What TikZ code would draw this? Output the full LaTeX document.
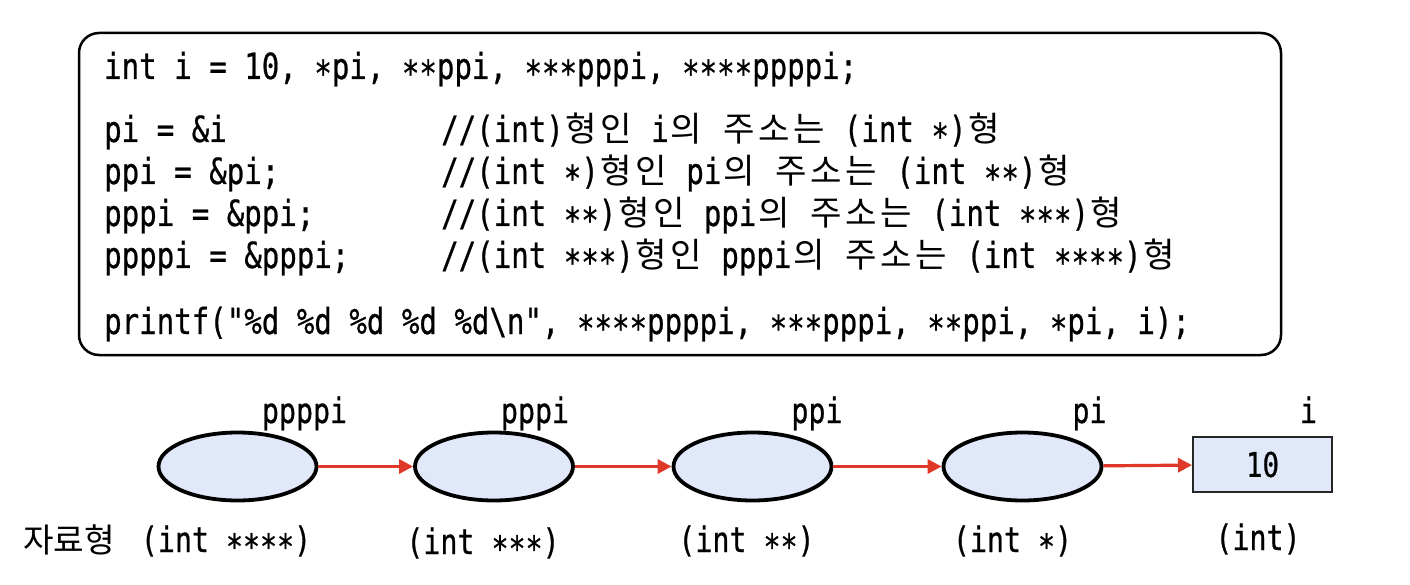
\documentclass[tikz,border=0pt]{standalone}
\usepackage{fontspec}
\setmonofont[FakeStretch=0.808,FakeBold=0.6]{DejaVu Sans Mono}
\newfontfamily\kr[Scale=0.95]{Noto Sans CJK KR}
\usetikzlibrary{arrows.meta,shapes.geometric}
\newcommand\K[1]{{\kr #1}}
\newcommand\hc[1]{\makebox[35pt]{\kr #1}}
\newcommand\sa{\raisebox{-7pt}{*}}
\definecolor{ellfill}{RGB}{224,232,250}
\definecolor{arrred}{RGB}{224,56,40}
\tikzset{
  code/.style={anchor=base west, inner sep=0pt, font=\ttfamily\fontsize{36}{42}\selectfont},
  lbl/.style={anchor=base, inner sep=0pt, font=\ttfamily\fontsize{35}{42}\selectfont},
  ell/.style={ellipse, draw, line width=3.8pt, fill=ellfill, minimum width=158pt, minimum height=68pt, inner sep=0pt},
  valbox/.style={rectangle, draw=black!85, line width=2pt, fill=ellfill, minimum width=139pt, minimum height=55pt, inner sep=0pt, font=\ttfamily\fontsize{34}{40}\selectfont},
  arr/.style={draw=arrred, line width=3.2pt, -{Triangle[length=14pt,width=14pt]}}
}
\begin{document}
\begin{tikzpicture}[x=1pt,y=-1pt]
\useasboundingbox (0,0) rectangle (1410,585);
% code box
\node[draw, line width=2.5pt, rounded corners=20pt, minimum width=1202pt, minimum height=322pt, inner sep=0pt] (box) at (680,194) {};
\node[code] (l1) at (104,79) {int i = 10, \sa pi, \sa\sa ppi, \sa\sa\sa pppi, \sa\sa\sa\sa ppppi;};
\node[code] (l2) at (104,142) {pi = \&i};
\node[code] (c2) at (441,142) {//(int)\hc{형}\hc{인} i\hc{의} \hc{주}\hc{소}\hc{는} (int \sa)\hc{형}};
\node[code] (l3) at (104,184) {ppi = \&pi;};
\node[code] (c3) at (441,184) {//(int \sa)\hc{형}\hc{인} pi\hc{의} \hc{주}\hc{소}\hc{는} (int \sa\sa)\hc{형}};
\node[code] (l4) at (104,226) {pppi = \&ppi;};
\node[code] (c4) at (441,226) {//(int \sa\sa)\hc{형}\hc{인} ppi\hc{의} \hc{주}\hc{소}\hc{는} (int \sa\sa\sa)\hc{형}};
\node[code] (l5) at (104,268) {ppppi = \&pppi;};
\node[code] (c5) at (441,268) {//(int \sa\sa\sa)\hc{형}\hc{인} pppi\hc{의} \hc{주}\hc{소}\hc{는} (int \sa\sa\sa\sa)\hc{형}};
\node[code] (l6) at (104,334) {printf("\%d \%d \%d \%d \%d\textbackslash n", \sa\sa\sa\sa ppppi, \sa\sa\sa pppi, \sa\sa ppi, \sa pi, i);};
% diagram
\node[ell] (e1) at (237.5,466.5) {};
\node[ell] (e2) at (494,466.5) {};
\node[ell] (e3) at (752.5,466.5) {};
\node[ell] (e4) at (1022.5,466.5) {};
\node[valbox] (r) at (1262.5,464.5) {10};
\draw[arr] (e1) -- (e2);
\draw[arr] (e2) -- (e3);
\draw[arr] (e3) -- (e4);
\draw[arr] (e4) -- (r);
% names
\node[lbl] (n1) at (304.5,423) {ppppi};
\node[lbl] (n2) at (535,423) {pppi};
\node[lbl] (n3) at (817,423) {ppi};
\node[lbl] (n4) at (1089.5,423) {pi};
\node[lbl] (n5) at (1308.5,423) {i};
% types
\node[lbl, anchor=base west] (t0) at (23,552) {\K{자료형}};
\node[lbl] (t1) at (226,552) {(int \sa\sa\sa\sa)};
\node[lbl] (t2) at (483,554) {(int \sa\sa\sa)};
\node[lbl] (t3) at (746.5,552) {(int \sa\sa)};
\node[lbl] (t4) at (1012.5,552) {(int \sa)};
\node[lbl] (t5) at (1258,550) {(int)};
\end{tikzpicture}
\end{document}
